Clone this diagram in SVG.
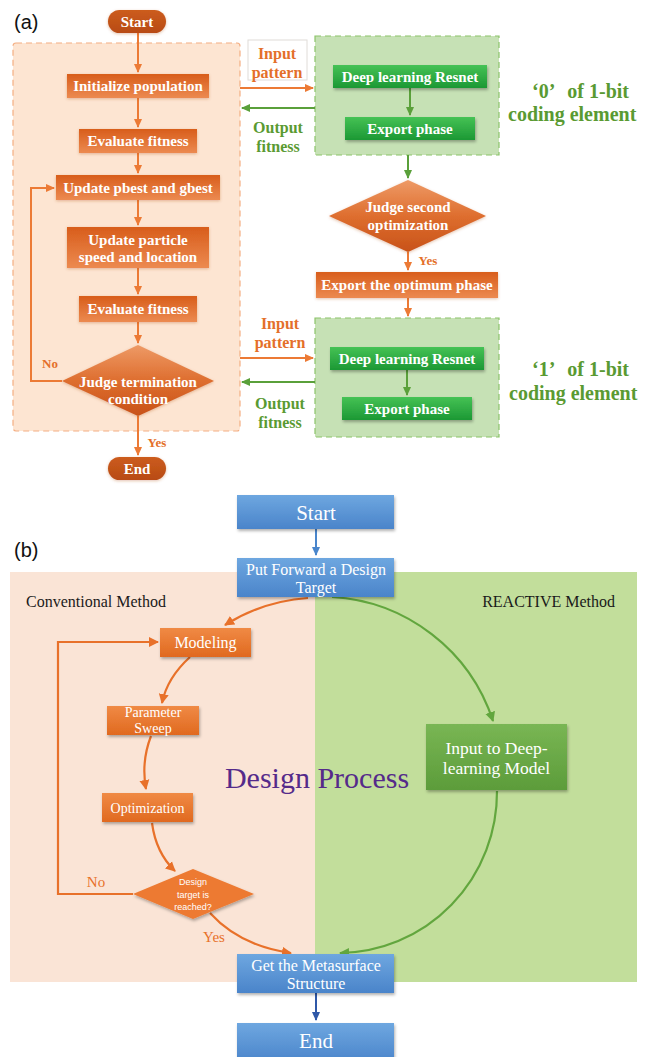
<svg xmlns="http://www.w3.org/2000/svg" width="652" height="1057" viewBox="0 0 652 1057">
<style>
.ta{font-family:"Liberation Serif",serif;font-weight:bold;font-size:15px;fill:#fff;text-anchor:middle}
.lo{font-family:"Liberation Serif",serif;font-weight:bold;font-size:16px;fill:#e46f2a;text-anchor:middle}
.lg{font-family:"Liberation Serif",serif;font-weight:bold;font-size:16px;fill:#5a9a32;text-anchor:middle}
.big{font-family:"Liberation Serif","Noto Sans CJK SC",serif;font-weight:bold;font-size:20px;fill:#5a9a32}
.tb{font-family:"Liberation Serif",serif;font-size:16px;fill:#fff;text-anchor:middle}
.tk{font-family:"Liberation Serif",serif;font-size:16px;fill:#1a1a1a}
.lab{font-family:"Liberation Sans",sans-serif;font-size:20px;fill:#111}
.ao{fill:none;stroke:#ec7a35;stroke-width:2}
.ag{fill:none;stroke:#5aa03a;stroke-width:2}
.bo{fill:none;stroke:#e8712a;stroke-width:2.2}
.bg{fill:none;stroke:#62a63e;stroke-width:2.2}
</style>
<defs>
<linearGradient id="gOrA" x1="0" y1="0" x2="0" y2="1"><stop offset="0" stop-color="#d85d1b"/><stop offset="1" stop-color="#ec8a50"/></linearGradient>
<linearGradient id="gPill" x1="0" y1="0" x2="0" y2="1"><stop offset="0" stop-color="#cc5c1f"/><stop offset="1" stop-color="#b84b12"/></linearGradient>
<linearGradient id="gDiaA" x1="0" y1="0" x2="0" y2="1"><stop offset="0" stop-color="#ee9a66"/><stop offset="0.5" stop-color="#de6e2f"/><stop offset="1" stop-color="#c85218"/></linearGradient>
<linearGradient id="gGrA" x1="0" y1="0" x2="0" y2="1"><stop offset="0" stop-color="#45c255"/><stop offset="1" stop-color="#1c9834"/></linearGradient>
<linearGradient id="gBlue" x1="0" y1="0" x2="0" y2="1"><stop offset="0" stop-color="#6ea7e0"/><stop offset="1" stop-color="#4a84ca"/></linearGradient>
<linearGradient id="gOrB" x1="0" y1="0" x2="0" y2="1"><stop offset="0" stop-color="#f08a45"/><stop offset="1" stop-color="#e0691f"/></linearGradient>
<linearGradient id="gGrB" x1="0" y1="0" x2="0" y2="1"><stop offset="0" stop-color="#79b654"/><stop offset="1" stop-color="#5c9c3a"/></linearGradient>
<filter id="sh" x="-20%" y="-30%" width="140%" height="170%"><feDropShadow dx="1" dy="2" stdDeviation="1.5" flood-color="#000" flood-opacity="0.3"/></filter>
<filter id="glow" x="-20%" y="-30%" width="140%" height="160%"><feDropShadow dx="0" dy="1" stdDeviation="1.5" flood-color="#b05020" flood-opacity="0.35"/></filter>
<marker id="mo" markerWidth="10" markerHeight="10" refX="8" refY="5" orient="auto" markerUnits="userSpaceOnUse"><path d="M0,1 L9,5 L0,9 Z" fill="#ec7a35"/></marker>
<marker id="mg" markerWidth="10" markerHeight="10" refX="8" refY="5" orient="auto" markerUnits="userSpaceOnUse"><path d="M0,1 L9,5 L0,9 Z" fill="#5aa03a"/></marker>
<marker id="mbo" markerWidth="12" markerHeight="12" refX="9" refY="6" orient="auto" markerUnits="userSpaceOnUse"><path d="M0,1 L10,6 L0,11 Z" fill="#e8712a"/></marker>
<marker id="mbg" markerWidth="12" markerHeight="12" refX="9" refY="6" orient="auto" markerUnits="userSpaceOnUse"><path d="M0,1 L10,6 L0,11 Z" fill="#62a63e"/></marker>
<marker id="mbl" markerWidth="10" markerHeight="10" refX="8" refY="5" orient="auto" markerUnits="userSpaceOnUse"><path d="M0,1 L9,5 L0,9 Z" fill="#4a86cc"/></marker>
<marker id="mbd" markerWidth="10" markerHeight="10" refX="8" refY="5" orient="auto" markerUnits="userSpaceOnUse"><path d="M0,1 L9,5 L0,9 Z" fill="#2f58a8"/></marker>
</defs>
<rect width="652" height="1057" fill="#fff"/>

<!-- ===== Part (a) ===== -->
<text class="lab" x="14" y="29">(a)</text>
<g id="a-pso-panel"><rect x="13" y="43" width="227" height="388" rx="3" fill="#fde5d2" stroke="#f4ae82" stroke-width="1.2" stroke-dasharray="6,4"/></g>
<g id="a-green-panel-0"><rect x="315" y="36" width="184" height="119" fill="#c6e1b5" stroke="#8cc46a" stroke-width="1.2" stroke-dasharray="6,4"/></g>
<g id="a-green-panel-1"><rect x="315" y="318" width="184" height="119" fill="#c6e1b5" stroke="#8cc46a" stroke-width="1.2" stroke-dasharray="6,4"/></g>

<g id="a-connectors">
<path class="ao" d="M138,33 V72" marker-end="url(#mo)"/>
<path class="ao" d="M138,98 V127" marker-end="url(#mo)"/>
<path class="ao" d="M138,153 V173" marker-end="url(#mo)"/>
<path class="ao" d="M138,200 V225" marker-end="url(#mo)"/>
<path class="ao" d="M138,268 V294" marker-end="url(#mo)"/>
<path class="ao" d="M138,322 V343" marker-end="url(#mo)"/>
<path class="ao" d="M138,416 V455" marker-end="url(#mo)"/>
<path class="ao" d="M62,381 H31 V188 H54" marker-end="url(#mo)"/>
<path class="ao" d="M240,88 H313" marker-end="url(#mo)"/>
<path class="ag" d="M315,108 H242" marker-end="url(#mg)"/>
<path class="ao" d="M240,358 H313" marker-end="url(#mo)"/>
<path class="ag" d="M315,382 H242" marker-end="url(#mg)"/>
<path class="ag" d="M410,88 V115" marker-end="url(#mg)"/>
<path class="ag" d="M407,370 V395" marker-end="url(#mg)"/>
<path class="ag" d="M408,155 V178" marker-end="url(#mg)"/>
<path class="ao" d="M408,252 V270" marker-end="url(#mo)"/>
<path class="ao" d="M408,298 V316" marker-end="url(#mo)"/>
</g>

<g id="a-start"><rect x="108" y="10" width="58" height="23" rx="11.5" fill="url(#gPill)" filter="url(#glow)"/><text class="ta" x="137" y="26.5">Start</text></g>
<g id="a-init"><rect x="67" y="74" width="142" height="24" fill="url(#gOrA)" filter="url(#glow)"/><text class="ta" x="138" y="91">Initialize population</text></g>
<g id="a-eval1"><rect x="79" y="129" width="118" height="24" fill="url(#gOrA)" filter="url(#glow)"/><text class="ta" x="138" y="146">Evaluate fitness</text></g>
<g id="a-update-best"><rect x="56" y="175" width="164" height="25" fill="url(#gOrA)" filter="url(#glow)"/><text class="ta" x="138" y="192.5">Update pbest and gbest</text></g>
<g id="a-update-particle"><rect x="67" y="227" width="142" height="41" fill="url(#gOrA)" filter="url(#glow)"/><text class="ta" x="138" y="245">Update particle</text><text class="ta" x="138" y="262">speed and location</text></g>
<g id="a-eval2"><rect x="79" y="296" width="118" height="26" fill="url(#gOrA)" filter="url(#glow)"/><text class="ta" x="138" y="314">Evaluate fitness</text></g>
<g id="a-judge-term"><path d="M62,381 L138,345 L214,381 L138,416 Z" fill="url(#gDiaA)" filter="url(#glow)"/><text class="ta" x="138" y="387">Judge termination</text><text class="ta" x="138" y="404">condition</text></g>
<g id="a-end"><rect x="108" y="457" width="58" height="23" rx="11.5" fill="url(#gPill)" filter="url(#glow)"/><text class="ta" x="137" y="473.5">End</text></g>
<text class="lo" x="50" y="368" style="font-size:13px">No</text>
<text class="lo" x="157" y="447" style="font-size:13px">Yes</text>

<g id="a-input-label-0"><rect x="248" y="40" width="59" height="40" fill="#fff" stroke="#e0dcd8" stroke-width="1"/><text class="lo" x="277" y="59">Input</text><text class="lo" x="277" y="78">pattern</text></g>
<g id="a-output-label-0"><text class="lg" x="278" y="133">Output</text><text class="lg" x="278" y="152">fitness</text></g>
<g id="a-input-label-1"><text class="lo" x="280" y="329">Input</text><text class="lo" x="280" y="348">pattern</text></g>
<g id="a-output-label-1"><text class="lg" x="280" y="409">Output</text><text class="lg" x="280" y="428">fitness</text></g>

<g id="a-resnet-0"><rect x="333" y="65" width="154" height="23" fill="url(#gGrA)" filter="url(#sh)"/><text class="ta" x="410" y="81.5">Deep learning Resnet</text></g>
<g id="a-export-0"><rect x="345" y="117" width="130" height="23" fill="url(#gGrA)" filter="url(#sh)"/><text class="ta" x="410" y="133.5">Export phase</text></g>
<g id="a-judge-second"><path d="M329,216 L408,180 L486,216 L408,252 Z" fill="url(#gDiaA)" filter="url(#glow)"/><text class="ta" x="408" y="212">Judge second</text><text class="ta" x="408" y="230">optimization</text></g>
<text class="lo" x="428" y="265" style="font-size:13px">Yes</text>
<g id="a-export-optimum"><rect x="316" y="272" width="182" height="26" fill="url(#gOrA)" filter="url(#glow)"/><text class="ta" x="407" y="290">Export the optimum phase</text></g>
<g id="a-resnet-1"><rect x="330" y="347" width="154" height="23" fill="url(#gGrA)" filter="url(#sh)"/><text class="ta" x="407" y="363.5">Deep learning Resnet</text></g>
<g id="a-export-1"><rect x="342" y="397" width="130" height="23" fill="url(#gGrA)" filter="url(#sh)"/><text class="ta" x="407" y="413.5">Export phase</text></g>

<g id="a-label-0"><text class="big" x="532" y="98">‘0’<tspan dx="12">of 1-bit</tspan></text><text class="big" x="508" y="121">coding element</text></g>
<g id="a-label-1"><text class="big" x="532" y="376">‘1’<tspan dx="12">of 1-bit</tspan></text><text class="big" x="509" y="400">coding element</text></g>

<!-- ===== Part (b) ===== -->
<text class="lab" x="14" y="557">(b)</text>
<g id="b-panels">
<rect x="10" y="572" width="305" height="410" fill="#fae4d6"/>
<rect x="315" y="572" width="322" height="410" fill="#c2de9b"/>
</g>
<text class="tk" x="26" y="607">Conventional Method</text>
<text class="tk" x="615" y="607" text-anchor="end">REACTIVE Method</text>
<text x="317" y="788" text-anchor="middle" style="font-family:'Liberation Serif',serif;font-size:30px;fill:#552a8a">Design Process</text>

<g id="b-connectors">
<path d="M316,529 V555" fill="none" stroke="#4a86cc" stroke-width="2" marker-end="url(#mbl)"/>
<path class="bo" d="M308,598 A180,180 0 0 0 225,625" marker-end="url(#mbo)"/>
<path class="bo" d="M190,657 Q167,678 162,703" marker-end="url(#mbo)"/>
<path class="bo" d="M151,736 Q141,762 146,789" marker-end="url(#mbo)"/>
<path class="bo" d="M152,823 Q156,853 175,871" marker-end="url(#mbo)"/>
<path class="bo" d="M133,894 H58 V642 H158" marker-end="url(#mbo)"/>
<path class="bo" d="M210,913 Q240,946 291,953" marker-end="url(#mbo)"/>
<path class="bg" d="M332,597 A180,180 0 0 1 493,721" marker-end="url(#mbg)"/>
<path class="bg" d="M497,791 A159,161 0 0 1 340,953" marker-end="url(#mbg)"/>
<path d="M316,993 V1020" fill="none" stroke="#2f58a8" stroke-width="2" marker-end="url(#mbd)"/>
</g>

<g id="b-start"><rect x="237" y="495" width="157" height="34" fill="url(#gBlue)" filter="url(#sh)"/><text class="tb" x="316" y="520" style="font-size:21px">Start</text></g>
<g id="b-target"><rect x="237" y="558" width="157" height="39" fill="url(#gBlue)" filter="url(#sh)"/><text class="tb" x="316" y="575">Put Forward a Design</text><text class="tb" x="316" y="593">Target</text></g>
<g id="b-modeling"><rect x="160" y="628" width="91" height="29" fill="url(#gOrB)" filter="url(#sh)"/><text class="tb" x="205.5" y="648">Modeling</text></g>
<g id="b-sweep"><rect x="107" y="706" width="92" height="29" fill="url(#gOrB)" filter="url(#sh)"/><text class="tb" x="153" y="717" style="font-size:14px">Parameter</text><text class="tb" x="153" y="733" style="font-size:14px">Sweep</text></g>
<g id="b-optimization"><rect x="102" y="793" width="91" height="29" fill="url(#gOrB)" filter="url(#sh)"/><text class="tb" x="147.5" y="813" style="font-size:14px">Optimization</text></g>
<g id="b-decision"><path d="M133,894 L193,869 L254,894 L193,919 Z" fill="#ed7a31" filter="url(#sh)"/>
<text x="193" y="885" text-anchor="middle" style="font-family:'Liberation Sans',sans-serif;font-size:9px;fill:#fff">Design</text>
<text x="193" y="898" text-anchor="middle" style="font-family:'Liberation Sans',sans-serif;font-size:9px;fill:#fff">target is</text>
<text x="193" y="910" text-anchor="middle" style="font-family:'Liberation Sans',sans-serif;font-size:9px;fill:#fff">reached?</text></g>
<text x="96" y="887" text-anchor="middle" style="font-family:'Liberation Serif',serif;font-size:15px;fill:#e8712a">No</text>
<text x="214" y="942" text-anchor="middle" style="font-family:'Liberation Serif',serif;font-size:15px;fill:#e8712a">Yes</text>
<g id="b-deep"><rect x="426" y="724" width="141" height="66" fill="url(#gGrB)" filter="url(#sh)"/><text class="tb" x="496.5" y="754" style="font-size:17.5px">Input to Deep-</text><text class="tb" x="496.5" y="774" style="font-size:17.5px">learning Model</text></g>
<g id="b-structure"><rect x="237" y="954" width="157" height="39" fill="url(#gBlue)" filter="url(#sh)"/><text class="tb" x="316" y="971">Get the Metasurface</text><text class="tb" x="316" y="989">Structure</text></g>
<g id="b-end"><rect x="237" y="1023" width="157" height="40" fill="url(#gBlue)" filter="url(#sh)"/><text class="tb" x="316" y="1048" style="font-size:21px">End</text></g>
</svg>
